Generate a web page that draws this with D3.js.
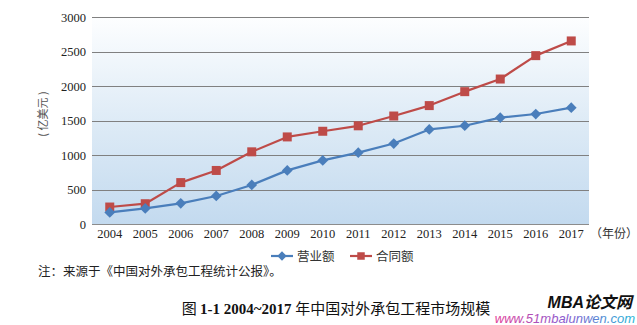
<!DOCTYPE html>
<html>
<head>
<meta charset="utf-8">
<script src="https://cdn.jsdelivr.net/npm/d3@7"></script>
<style>
  html, body { margin: 0; padding: 0; background: #fff; }
  svg { display: block; }
</style>
</head>
<body>
<svg id="chart" width="637" height="325"></svg>
<script>
// Years on the category axis
const years = ["2004","2005","2006","2007","2008","2009","2010","2011","2012","2013","2014","2015","2016","2017"];
// 营业额 (亿美元)
const revenue = [168, 226, 300, 406, 566, 777, 922, 1034, 1166, 1371, 1424, 1541, 1594, 1686];
// 合同额 (亿美元)
const contracts = [246, 294, 600, 776, 1046, 1262, 1344, 1423, 1565, 1716, 1918, 2101, 2440, 2653];
// Value axis ticks
const yTicks = [0, 500, 1000, 1500, 2000, 2500, 3000];

const svg = d3.select("#chart");
const plotL = 92, plotR = 589, plotT = 17, plotB = 224;

const x = d3.scaleBand().domain(years).range([plotL, plotR]);
const y = d3.scaleLinear().domain([0, 3000]).range([plotB, plotT]);

// Plot background gradient
const defs = svg.append("defs");
const grad = defs.append("linearGradient").attr("id", "bg")
  .attr("x1", 0).attr("y1", 0).attr("x2", 0).attr("y2", 1);
grad.append("stop").attr("offset", "0%").attr("stop-color", "#fdfeff");
grad.append("stop").attr("offset", "50%").attr("stop-color", "#deebf6");
grad.append("stop").attr("offset", "100%").attr("stop-color", "#c3daef");

svg.append("rect").attr("x", plotL).attr("y", plotT)
  .attr("width", plotR - plotL).attr("height", plotB - plotT)
  .attr("fill", "url(#bg)");

// Horizontal gridlines
svg.append("g").selectAll("line").data(yTicks).join("line")
  .attr("x1", plotL).attr("x2", plotR)
  .attr("y1", d => Math.round(y(d)) + 0.5).attr("y2", d => Math.round(y(d)) + 0.5)
  .attr("stroke", d => d === 0 ? "#8c8c8c" : "#808080").attr("stroke-width", 1);

// Y axis labels
const yAxis = d3.axisLeft(y).tickValues(yTicks).tickFormat(d3.format("d")).tickSize(0).tickPadding(6);
const gy = svg.append("g").attr("transform", `translate(${plotL},0)`).call(yAxis);
gy.select(".domain").remove();
gy.selectAll("text").attr("font-family", "'Liberation Serif', serif")
  .attr("font-size", 12.5).attr("fill", "#222");

// X axis labels
const xAxis = d3.axisBottom(x).tickSize(0).tickPadding(5);
const gx = svg.append("g").attr("transform", `translate(0,${plotB})`).call(xAxis);
gx.select(".domain").remove();
gx.selectAll("text").attr("font-family", "'Liberation Serif', serif")
  .attr("font-size", 12.5).attr("fill", "#222");

// Axis titles
svg.append("text").attr("x", 590).attr("y", 238)
  .attr("font-family", "'Noto Sans CJK SC', sans-serif").attr("font-size", 12)
  .attr("fill", "#333").text("（年份）");
svg.append("text")
  .attr("transform", "translate(47,114) rotate(-90)")
  .attr("text-anchor", "middle")
  .attr("font-family", "'Noto Sans CJK SC', sans-serif").attr("font-size", 11)
  .attr("fill", "#555").text("( 亿美元 )");

const cx = d => x(d) + x.bandwidth() / 2;
const blue = "#4a7ebb", red = "#be4b48";

// Marker shapes: a square, and the same square turned 45° for the diamond
const markerPath = (kind, s) => d3.symbol().type(d3.symbolSquare).size(s * s)();
const markerRot = kind => kind === "diamond" ? " rotate(45)" : "";

function drawSeries(values, color, kind, side) {
  const line = d3.line().x((d, i) => cx(years[i])).y(d => y(d));
  svg.append("path").datum(values).attr("d", line)
    .attr("fill", "none").attr("stroke", color).attr("stroke-width", 2.2)
    .attr("stroke-linejoin", "round");
  svg.append("g").selectAll("path").data(values).join("path")
    .attr("d", markerPath(kind, side))
    .attr("transform", (d, i) => `translate(${cx(years[i])},${y(d)})` + markerRot(kind))
    .attr("fill", color);
}
drawSeries(contracts, red, "square", 9);
drawSeries(revenue, blue, "diamond", 7.6);

// Legend
const legend = [
  { name: "营业额", color: blue, kind: "diamond", side: 6.6, x: 271 },
  { name: "合同额", color: red, kind: "square", side: 7.5, x: 350 }
];
const lg = svg.append("g").selectAll("g").data(legend).join("g")
  .attr("transform", d => `translate(${d.x},256)`);
lg.append("line").attr("x1", 0).attr("x2", 22)
  .attr("stroke", d => d.color).attr("stroke-width", 2.2);
lg.append("path").attr("transform", d => "translate(11,0)" + markerRot(d.kind))
  .attr("d", d => markerPath(d.kind, d.side))
  .attr("fill", d => d.color);
lg.append("text").attr("x", 26).attr("y", 4.5)
  .attr("font-family", "'Noto Sans CJK SC', sans-serif").attr("font-size", 12.5)
  .attr("fill", "#333").text(d => d.name);

// Source note
svg.append("text").attr("x", 38).attr("y", 276)
  .attr("font-family", "'Noto Sans CJK SC', sans-serif").attr("font-size", 12.5)
  .attr("fill", "#222").text("注：来源于《中国对外承包工程统计公报》。");

// Figure caption
const cap = svg.append("text").attr("x", 336).attr("y", 314).attr("text-anchor", "middle")
  .attr("font-size", 15).attr("fill", "#111");
cap.append("tspan").attr("font-family", "'Noto Sans CJK SC', sans-serif").text("图 ");
cap.append("tspan").attr("font-family", "'Liberation Serif', serif").attr("font-weight", "bold").text("1-1 2004~2017 ");
cap.append("tspan").attr("font-family", "'Noto Sans CJK SC', sans-serif").text("年中国对外承包工程市场规模");

// Site mark
svg.append("text").attr("x", 632).attr("y", 308).attr("text-anchor", "end")
  .attr("font-family", "'Liberation Sans', 'Noto Sans CJK SC', sans-serif")
  .attr("font-size", 16).attr("font-weight", "bold").attr("font-style", "italic")
  .attr("fill", "#111").text("MBA论文网");
const ug = defs.append("linearGradient").attr("id", "urlg").attr("x1", 0).attr("x2", 1);
ug.append("stop").attr("offset", "0%").attr("stop-color", "#e0409a");
ug.append("stop").attr("offset", "50%").attr("stop-color", "#8a5bd0");
ug.append("stop").attr("offset", "100%").attr("stop-color", "#29b6d8");
svg.append("text").attr("x", 635).attr("y", 323).attr("text-anchor", "end")
  .attr("font-family", "'Liberation Sans', sans-serif").attr("font-size", 13)
  .attr("font-style", "italic").attr("fill", "url(#urlg)").text("www.51mbalunwen.com");
</script>
</body>
</html>
